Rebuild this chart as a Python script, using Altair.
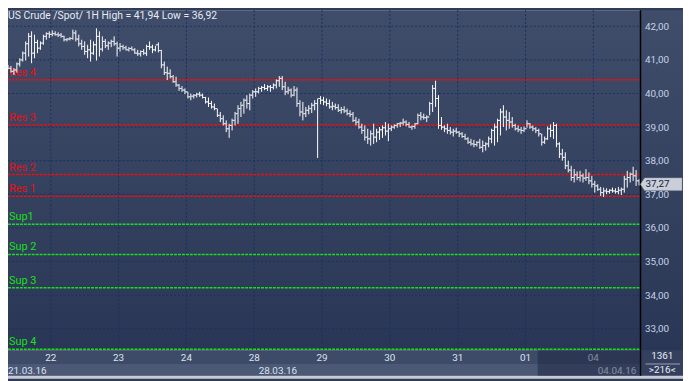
import altair as alt
import pandas as pd

# ---------------- data ----------------
day_labels = ["22", "23", "24", "28", "29", "30", "31", "01", "04"]
bars_per_day = [16, 23, 23, 23, 23, 23, 23, 23, 23, 16]   # 21.03 .. 04.04
week_labels = ["21.03.16", "28.03.16", "04.04.16"]
week_first_bar_day = [0, 4, 9]                             # index into days

high = [
    40.90, 40.85, 40.82, 40.75, 40.92, 41.05, 41.25, 41.55, 41.80, 41.85, 41.75, 41.60, 41.55, 41.75, 41.82, 41.85,
    41.88, 41.85, 41.82, 41.80, 41.72, 41.65, 41.68, 41.90, 41.88, 41.75, 41.60, 41.55, 41.45, 41.60, 41.55, 41.94, 41.85, 41.70, 41.62, 41.55, 41.60, 41.70, 41.54,
    41.50, 41.45, 41.42, 41.38, 41.40, 41.35, 41.30, 41.28, 41.32, 41.45, 41.55, 41.45, 41.42, 41.52, 41.30, 40.95, 40.80, 40.72, 40.55, 40.50, 40.28, 40.22, 40.15,
    40.05, 40.00, 39.98, 40.02, 40.05, 40.00, 39.90, 39.88, 39.78, 39.70, 39.55, 39.45, 39.35, 39.20, 39.10, 39.25, 39.45, 39.65, 39.75, 39.85, 39.95, 40.00, 40.10,
    40.15, 40.20, 40.22, 40.28, 40.25, 40.25, 40.30, 40.42, 40.52, 40.52, 40.35, 40.20, 40.15, 40.22, 40.18, 39.80, 39.75, 39.60, 39.65, 39.72, 39.80, 39.85, 39.92,
    39.90, 39.85, 39.82, 39.75, 39.70, 39.68, 39.60, 39.62, 39.55, 39.50, 39.45, 39.30, 39.25, 39.10, 39.05, 38.95, 38.90, 39.10, 38.95, 39.00, 39.05, 39.15, 39.10,
    39.05, 39.08, 39.12, 39.15, 39.25, 39.20, 39.15, 39.05, 39.12, 39.40, 39.45, 39.40, 39.35, 39.75, 40.25, 40.38, 39.95, 39.30, 39.05, 39.10, 39.00, 38.95, 38.98,
    38.88, 38.85, 38.80, 38.70, 38.65, 38.62, 38.58, 38.65, 38.60, 38.55, 38.72, 38.95, 39.10, 39.25, 39.55, 39.65, 39.50, 39.45, 39.30, 39.10, 39.05, 39.00, 39.02,
    39.20, 39.12, 39.05, 39.00, 38.95, 38.80, 38.72, 39.02, 39.08, 39.15, 39.10, 38.55, 38.35, 38.25, 38.00, 37.85, 37.75, 37.68, 37.70, 37.62, 37.75, 37.65, 37.55,
    37.40, 37.30, 37.22, 37.20, 37.18, 37.15, 37.20, 37.18, 37.22, 37.20, 37.55, 37.70, 37.65, 37.82, 37.72, 37.45,
]
low = [
    40.78, 40.72, 40.62, 40.55, 40.62, 40.80, 40.95, 40.98, 41.10, 40.90, 41.05, 41.20, 41.30, 41.45, 41.60, 41.65,
    41.70, 41.72, 41.68, 41.66, 41.55, 41.55, 41.58, 41.60, 41.55, 41.40, 41.30, 41.15, 41.05, 40.95, 41.15, 40.98, 41.10, 41.25, 41.35, 41.30, 41.38, 41.42, 41.10,
    41.25, 41.30, 41.28, 41.25, 41.28, 41.18, 41.12, 41.10, 41.15, 41.12, 41.30, 41.20, 41.25, 41.22, 40.75, 40.55, 40.40, 40.45, 40.32, 40.20, 40.08, 40.05, 39.98,
    39.85, 39.80, 39.85, 39.88, 39.90, 39.85, 39.70, 39.60, 39.55, 39.50, 39.30, 39.15, 39.05, 38.85, 38.68, 38.90, 39.05, 39.10, 39.30, 39.40, 39.55, 39.50, 39.85,
    39.90, 40.00, 40.05, 40.10, 40.08, 40.05, 40.12, 40.15, 40.20, 40.10, 39.95, 39.98, 39.88, 39.92, 39.60, 39.32, 39.20, 39.30, 39.38, 39.42, 39.50, 38.08, 39.68,
    39.65, 39.62, 39.55, 39.50, 39.52, 39.45, 39.40, 39.42, 39.35, 39.30, 39.15, 39.05, 38.95, 38.80, 38.60, 38.50, 38.45, 38.50, 38.55, 38.62, 38.68, 38.75, 38.58,
    38.88, 38.95, 38.98, 39.00, 39.05, 39.02, 38.98, 38.92, 38.95, 39.08, 39.20, 39.22, 39.15, 39.35, 39.45, 39.60, 38.95, 38.92, 38.85, 38.80, 38.78, 38.72, 38.80,
    38.70, 38.68, 38.62, 38.50, 38.45, 38.40, 38.42, 38.35, 38.25, 38.30, 38.40, 38.52, 38.45, 38.55, 38.75, 39.00, 38.90, 38.95, 38.98, 38.90, 38.85, 38.80, 38.85,
    38.98, 38.95, 38.88, 38.82, 38.72, 38.45, 38.50, 38.62, 38.70, 38.65, 38.40, 38.08, 38.00, 37.75, 37.65, 37.40, 37.35, 37.42, 37.38, 37.35, 37.40, 37.30, 37.20,
    37.05, 37.10, 36.95, 36.92, 37.00, 37.02, 37.05, 37.02, 37.00, 36.98, 37.05, 37.20, 37.35, 37.40, 37.25, 37.27,
]
close = [
    40.80, 40.75, 40.66, 40.70, 40.88, 41.00, 41.20, 41.48, 41.70, 41.20, 41.52, 41.35, 41.50, 41.70, 41.78, 41.76,
    41.78, 41.75, 41.74, 41.70, 41.60, 41.62, 41.64, 41.80, 41.62, 41.48, 41.40, 41.25, 41.30, 41.20, 41.45, 41.70, 41.32, 41.55, 41.42, 41.50, 41.55, 41.48, 41.35,
    41.40, 41.36, 41.30, 41.34, 41.30, 41.20, 41.18, 41.25, 41.20, 41.40, 41.38, 41.30, 41.45, 41.28, 40.85, 40.62, 40.60, 40.50, 40.35, 40.25, 40.15, 40.10, 40.05,
    39.90, 39.92, 39.95, 39.98, 39.95, 39.88, 39.75, 39.70, 39.60, 39.55, 39.35, 39.25, 39.10, 38.95, 39.05, 39.20, 39.40, 39.55, 39.65, 39.80, 39.70, 39.95, 40.05,
    40.05, 40.15, 40.18, 40.15, 40.20, 40.18, 40.25, 40.38, 40.45, 40.20, 40.05, 40.10, 39.95, 40.10, 39.70, 39.45, 39.40, 39.50, 39.55, 39.65, 39.70, 39.85, 39.80,
    39.75, 39.70, 39.60, 39.62, 39.58, 39.50, 39.52, 39.48, 39.40, 39.38, 39.20, 39.15, 39.00, 38.90, 38.70, 38.65, 38.80, 38.70, 38.85, 38.92, 38.98, 38.88, 38.95,
    39.00, 39.05, 39.10, 39.12, 39.15, 39.08, 39.00, 39.02, 39.10, 39.35, 39.30, 39.28, 39.30, 39.70, 40.15, 39.85, 39.05, 39.00, 38.95, 38.90, 38.85, 38.88, 38.85,
    38.80, 38.72, 38.65, 38.55, 38.50, 38.48, 38.55, 38.40, 38.45, 38.50, 38.65, 38.90, 39.00, 39.20, 39.45, 39.30, 39.20, 39.15, 39.05, 38.95, 38.92, 38.90, 38.95,
    39.10, 39.00, 38.95, 38.90, 38.80, 38.55, 38.65, 38.95, 38.90, 39.05, 38.50, 38.20, 38.10, 37.85, 37.72, 37.50, 37.58, 37.50, 37.55, 37.48, 37.50, 37.40, 37.30,
    37.25, 37.15, 37.05, 37.10, 37.08, 37.12, 37.10, 37.08, 37.12, 37.15, 37.45, 37.50, 37.60, 37.55, 37.40, 37.27,
]
first_open = 40.85

level_names = ["Res 4", "Res 3", "Res 2", "Res 1", "Sup1", "Sup 2", "Sup 3", "Sup 4"]
level_values = [40.41, 39.06, 37.59, 36.94, 36.11, 35.21, 34.22, 32.39]
level_kinds = ["res", "res", "res", "res", "sup", "sup", "sup", "sup"]

price_ticks = [33, 34, 35, 36, 37, 38, 39, 40, 41, 42]

n = sum(bars_per_day)
assert len(high) == n and len(low) == n and len(close) == n, (len(high), len(low), len(close), n)

# ---------------- tables ----------------
opens = [first_open] + close[:-1]
bars = pd.DataFrame({"i": list(range(n)), "high": high, "low": low,
                     "open": opens, "close": close})

starts = []
s = 0
for c in bars_per_day:
    starts.append(s)
    s += c
bounds = pd.DataFrame({"b": [st - 0.5 for st in starts[1:]], "label": day_labels})
weeks = pd.DataFrame({"b": [starts[d] for d in week_first_bar_day], "label": week_labels})
levels = pd.DataFrame({"v": level_values, "name": level_names, "kind": level_kinds})
grid = pd.DataFrame({"v": price_ticks})
last = pd.DataFrame({"v": [close[-1]],
                     "t": [f"{close[-1]:.2f}".replace(".", ",")]})
hi_txt = f"{max(high):.2f}".replace(".", ",")
lo_txt = f"{min(low):.2f}".replace(".", ",")
title_df = pd.DataFrame({"t": [f"US Crude /Spot/ 1H High = {hi_txt} Low = {lo_txt}"]})
info = pd.DataFrame({"t": ["1361\n>" + str(n) + "<"]})
one = pd.DataFrame({"a": [0]})

W, H = 640, 344
FONT = "Roboto"
xs = alt.Scale(domain=[1.0, 215.5], nice=False, zero=False)
ys = alt.Scale(domain=[32.362, 42.479], nice=False, zero=False)
X = alt.X("i:Q", scale=xs, axis=None)
GRID = "#1a3160"

yaxis = alt.Axis(orient="right", values=price_ticks, grid=False, ticks=False, domain=False,
                 labelColor="#c6d2e6", labelFont=FONT, labelFontSize=10, labelPadding=4,
                 labelExpr="replace(format(datum.value, '.2f'), '.', ',')", zindex=1, title=None)


def Y(field):
    return alt.Y(field, scale=ys, axis=yaxis, title=None)


bg = alt.Chart(one).mark_rect(
    fill=alt.Gradient(gradient="linear", x1=0, y1=0, x2=0, y2=1,
                      stops=[alt.GradientStop(color="#3f4d6a", offset=0),
                             alt.GradientStop(color="#2a3655", offset=1)])
).encode(x=alt.value(0), x2=alt.value(683), y=alt.value(0), y2=alt.value(H))

band1 = alt.Chart(one).mark_rect(color="#3e4b68").encode(
    x=alt.value(0), x2=alt.value(W), y=alt.value(H), y2=alt.value(H + 14))
band2 = alt.Chart(one).mark_rect(color="#4b5876").encode(
    x=alt.value(0), x2=alt.value(W), y=alt.value(H + 14), y2=alt.value(H + 26))
panel = alt.Chart(one).mark_rect(color="#34405d").encode(
    x=alt.value(W), x2=alt.value(683), y=alt.value(H), y2=alt.value(H + 26))
frame = alt.Chart(one).mark_rect(color="#c9ccd2").encode(
    x=alt.value(0), x2=alt.value(683), y=alt.value(H + 26), y2=alt.value(H + 29))

hgrid = alt.Chart(grid).mark_rule(color=GRID, strokeDash=[2, 2], strokeWidth=1).encode(
    y=Y("v:Q"), x=alt.value(0), x2=alt.value(W))
vgrid = alt.Chart(bounds).mark_rule(color=GRID, strokeDash=[2, 2], strokeWidth=1).encode(
    x=alt.X("b:Q", scale=xs, axis=None), y=alt.value(0), y2=alt.value(H))

lvl_color = alt.Color("kind:N", scale=alt.Scale(domain=["res", "sup"], range=["#e81010", "#18e018"]), legend=None)
lvl_lines = alt.Chart(levels).mark_rule(strokeDash=[3, 1], strokeWidth=1.5).encode(
    y=Y("v:Q"), x=alt.value(0), x2=alt.value(W), color=lvl_color)
lvl_text_color = alt.Color("kind:N", scale=alt.Scale(domain=["res", "sup"], range=["#ff1a1a", "#33e833"]), legend=None)
lvl_text = alt.Chart(levels).mark_text(align="left", baseline="alphabetic", dy=-4, fontSize=11, font=FONT).encode(
    y=Y("v:Q"), x=alt.value(1), text="name:N", color=lvl_text_color)

hl = alt.Chart(bars).mark_rule(color="white", strokeWidth=1).encode(
    x=X, y=Y("low:Q"), y2="high:Q")
op = alt.Chart(bars).mark_tick(color="white", orient="horizontal", size=2, thickness=1, xOffset=-1.5).encode(
    x=X, y=Y("open:Q"))
cl = alt.Chart(bars).mark_tick(color="white", orient="horizontal", size=2, thickness=1, xOffset=1.5).encode(
    x=X, y=Y("close:Q"))

edge = alt.Chart(one).mark_rule(color="black", strokeWidth=1.5).encode(
    x=alt.value(W), y=alt.value(0), y2=alt.value(H + 26))

tag = alt.Chart(last).mark_point(
    shape="M -1 0 L -0.8 -0.3 L 1 -0.3 L 1 0.3 L -0.8 0.3 Z",
    size=1764, filled=True, fill="#c9ced8", stroke="#9aa3b3", strokeWidth=0.5, opacity=1, yOffset=-1
).encode(x=alt.value(W + 21), y=Y("v:Q"))
tag_text = alt.Chart(last).mark_text(align="left", baseline="middle", fontSize=10, font=FONT, color="#16203a", dy=-1).encode(
    x=alt.value(W + 5), y=Y("v:Q"), text="t:N")

title = alt.Chart(title_df).mark_text(align="left", baseline="top", fontSize=10.5, font=FONT, color="#e6ebf3").encode(
    x=alt.value(0), y=alt.value(1), text="t:N")

day_text = alt.Chart(bounds).mark_text(baseline="middle", fontSize=10, font=FONT, color="#dbe3f0").encode(
    x=alt.X("b:Q", scale=xs, axis=None), y=alt.value(H + 8), text="label:N")
week_text = alt.Chart(weeks).mark_text(align="left", baseline="middle", dx=3, fontSize=10, font=FONT, color="#dbe3f0").encode(
    x=alt.X("b:Q", scale=xs, axis=None), y=alt.value(H + 21), text="label:N")

shade = alt.Chart(one).mark_rect(color="#16203c", opacity=0.45).encode(
    x=alt.value(536), x2=alt.value(W), y=alt.value(H), y2=alt.value(H + 26))

info_text = alt.Chart(info).mark_text(align="center", baseline="top", fontSize=10, font=FONT,
                                      color="#e8ecf4", lineBreak="\n", lineHeight=14).encode(
    x=alt.value(W + 22), y=alt.value(H + 1), text="t:N")
info_sep = alt.Chart(one).mark_rule(color="#9aa2b2", strokeWidth=1).encode(
    x=alt.value(W + 5), x2=alt.value(W + 40), y=alt.value(H + 14))

chart = alt.layer(
    bg, band1, band2, panel, frame, hgrid, vgrid, lvl_lines, lvl_text,
    hl, op, cl, edge, tag, tag_text, title, day_text, week_text, shade, info_text, info_sep
).properties(
    width=W, height=H, autosize="none",
    padding={"left": 0, "top": 0, "right": 43, "bottom": 29},
).configure_view(stroke=None).configure(background="#2f3b58")

chart.save("out.html", embed_options={"renderer": "svg", "actions": False})
